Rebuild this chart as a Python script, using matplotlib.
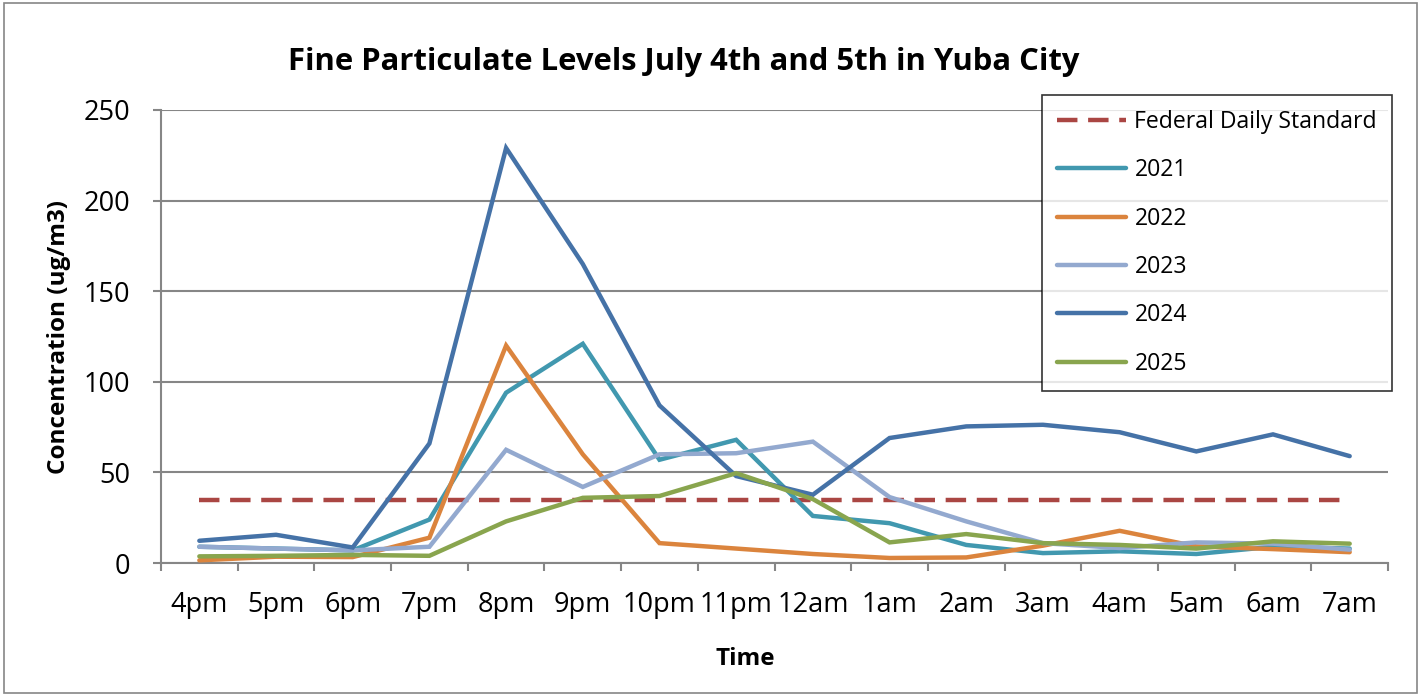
import matplotlib
matplotlib.use('Agg')
import matplotlib.pyplot as plt
import numpy as np

plt.rcParams['font.family'] = ['Open Sans', 'DejaVu Sans']

times = ['4pm', '5pm', '6pm', '7pm', '8pm', '9pm', '10pm', '11pm', '12am',
         '1am', '2am', '3am', '4am', '5am', '6am', '7am']
standard = 35

y2021 = [9, 8, 7, 24, 94, 121, 57, 68, 26, 22, 10, 5.5, 6.5, 5, 9, 8]
y2022 = [1.5, 3.5, 3.3, 14, 120, 60, 11, 8, 5, 2.8, 3.1, 9.6, 17.8, 9.2, 7.7, 6]
y2023 = [9, 8, 7, 9, 62.5, 42, 60, 60.6, 67, 36.4, 23, 11, 8.3, 11.4, 10.7, 7.4]
y2024 = [12.3, 15.6, 8.6, 66, 229, 165, 87, 48, 37.7, 69, 75.4, 76.3, 72.2, 61.6, 71, 59]
y2025 = [3.7, 4, 4.5, 4, 23, 36, 37, 49.6, 35.3, 11.4, 16, 11, 10, 8, 12, 10.7]

series = [('2021', y2021, '#4198AF'),
          ('2022', y2022, '#DB843D'),
          ('2023', y2023, '#93A9CF'),
          ('2024', y2024, '#4572A7'),
          ('2025', y2025, '#89A54E')]

fig = plt.figure(figsize=(14.21, 6.96), dpi=100)
ax = fig.add_axes([0.1133, 0.191, 0.8635, 0.651])

x = np.arange(len(times))
ax.plot(x, [standard] * len(times), color='#AA4643', lw=3.2,
        dashes=(4.6, 2.4), label='Federal Daily Standard', zorder=3)
for name, vals, col in series:
    ax.plot(x, vals, color=col, lw=3.2, label=name, zorder=4,
            solid_capstyle='round', solid_joinstyle='miter')

ax.set_xlim(-0.5, len(times) - 0.5)
ax.set_ylim(0, 250)
ax.set_yticks(range(0, 251, 50))
ax.set_xticks(x)
ax.set_xticklabels(times)
ax.set_xticks(np.arange(-0.5, len(times), 1), minor=True)
ax.tick_params(axis='x', which='major', length=0, pad=20, labelsize=19.5)
ax.tick_params(axis='x', which='minor', length=6, width=1.5, color='#868686', direction='out')
ax.tick_params(axis='y', length=6, width=1.5, color='#868686', labelsize=19.5, pad=16)

ax.grid(axis='y', color='#868686', lw=1.5)
ax.set_axisbelow(True)
for s in ['top', 'right']:
    ax.spines[s].set_visible(False)
for s in ['left', 'bottom']:
    ax.spines[s].set_color('#868686')
    ax.spines[s].set_linewidth(1.5)

fig.text(0.4813, 0.911, 'Fine Particulate Levels July 4th and 5th in Yuba City',
         fontsize=22.3, fontweight='bold', ha='center', va='center')
ax.set_xlabel('Time', fontsize=17.5, fontweight='bold')
ax.xaxis.set_label_coords(0.476, -0.186)
ax.set_ylabel('Concentration (ug/m3)', fontsize=17.5, fontweight='bold')
ax.yaxis.set_label_coords(-0.0737, 0.5)

leg = ax.legend(loc='upper right', bbox_to_anchor=(1.0033, 1.033), fontsize=16.6,
                frameon=True, fancybox=False, edgecolor='black',
                handlelength=3.0, labelspacing=1.055, borderpad=0.65,
                handletextpad=0.35, borderaxespad=0)
leg.get_frame().set_linewidth(1.2)
leg.set_zorder(10)

# outer chart border
fig.patches.append(plt.Rectangle((0.003, 0.004), 0.994, 0.992, transform=fig.transFigure,
                                 fill=False, edgecolor='#868686', lw=1.2))

fig.savefig('out.png', dpi=100)
